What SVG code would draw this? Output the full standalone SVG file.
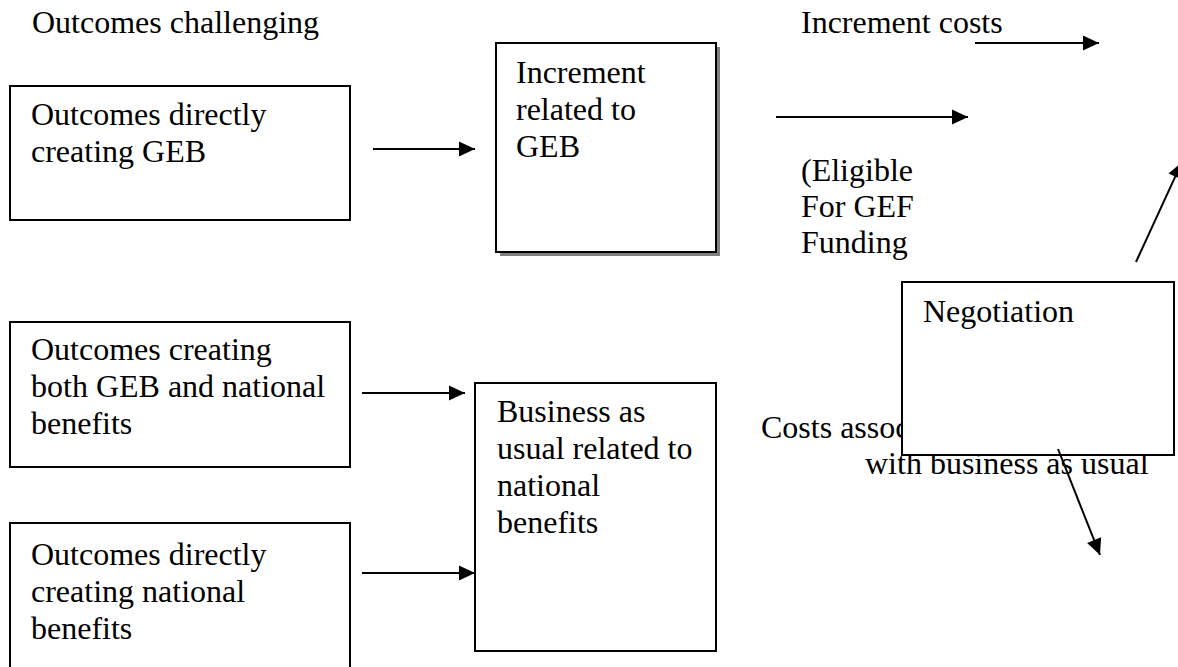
<svg xmlns="http://www.w3.org/2000/svg" width="1178" height="667" viewBox="0 0 1178 667">
  <style>
    text { font-family: "Liberation Serif", "Times New Roman", serif; font-size: 32px; fill: #000; }
    .box { fill: #fff; stroke: #000; stroke-width: 2; }
    .shadow { fill: #808080; stroke: none; }
    .conn { stroke: #000; stroke-width: 2; fill: none; marker-end: url(#arrow); }
  </style>
  <defs>
    <marker id="arrow" markerUnits="userSpaceOnUse" markerWidth="18" markerHeight="16" refX="16" refY="7.5" orient="auto" overflow="visible">
      <path d="M0,0 L16,7.5 L0,15 z" fill="#000"/>
    </marker>
  </defs>
  <rect width="1178" height="667" fill="#fff"/>

  <text id="label-outcomes-challenging" x="32" y="33">Outcomes challenging</text>
  <text id="label-increment-costs" x="801" y="33">Increment costs</text>
  <text id="label-eligible" x="801" y="181">(Eligible<tspan x="801" dy="36">For GEF</tspan><tspan x="801" dy="36">Funding</tspan></text>
  <text id="label-costs-associated" x="761" y="438">Costs associated</text>
  <text id="label-business-as-usual" x="865" y="474">with business as usual</text>

  <g id="node-outcomes-geb">
    <rect class="box" x="10" y="86" width="340" height="134"/>
    <text x="31" y="125">Outcomes directly<tspan x="31" dy="37">creating GEB</tspan></text>
  </g>

  <g id="node-increment-geb">
    <rect class="shadow" x="500" y="47" width="220" height="209"/>
    <rect class="box" x="496" y="43" width="220" height="209"/>
    <text x="516" y="83">Increment<tspan x="516" dy="37">related to</tspan><tspan x="516" dy="37">GEB</tspan></text>
  </g>

  <g id="node-outcomes-both">
    <rect class="box" x="10" y="322" width="340" height="145"/>
    <text x="31" y="360">Outcomes creating<tspan x="31" dy="37">both GEB and national</tspan><tspan x="31" dy="37">benefits</tspan></text>
  </g>

  <g id="node-outcomes-national">
    <rect class="box" x="10" y="523" width="340" height="160"/>
    <text x="31" y="565">Outcomes directly<tspan x="31" dy="37">creating national</tspan><tspan x="31" dy="37">benefits</tspan></text>
  </g>

  <g id="node-business-as-usual">
    <rect class="box" x="475" y="383" width="241" height="268"/>
    <text x="497" y="422">Business as<tspan x="497" dy="37">usual related to</tspan><tspan x="497" dy="37">national</tspan><tspan x="497" dy="37">benefits</tspan></text>
  </g>

  <g id="node-negotiation">
    <rect class="box" x="902" y="282" width="272" height="173"/>
    <text x="923" y="322">Negotiation</text>
  </g>

  <g id="connectors">
    <line class="conn" x1="373" y1="149" x2="475" y2="149"/>
    <line class="conn" x1="975" y1="43" x2="1099" y2="43"/>
    <line class="conn" x1="776" y1="117" x2="968" y2="117"/>
    <line class="conn" x1="1136" y1="262" x2="1182" y2="162"/>
    <line class="conn" x1="362" y1="393" x2="465" y2="393"/>
    <line class="conn" x1="362" y1="573" x2="475" y2="573"/>
    <line class="conn" x1="1058" y1="449" x2="1100" y2="555"/>
  </g>
</svg>
